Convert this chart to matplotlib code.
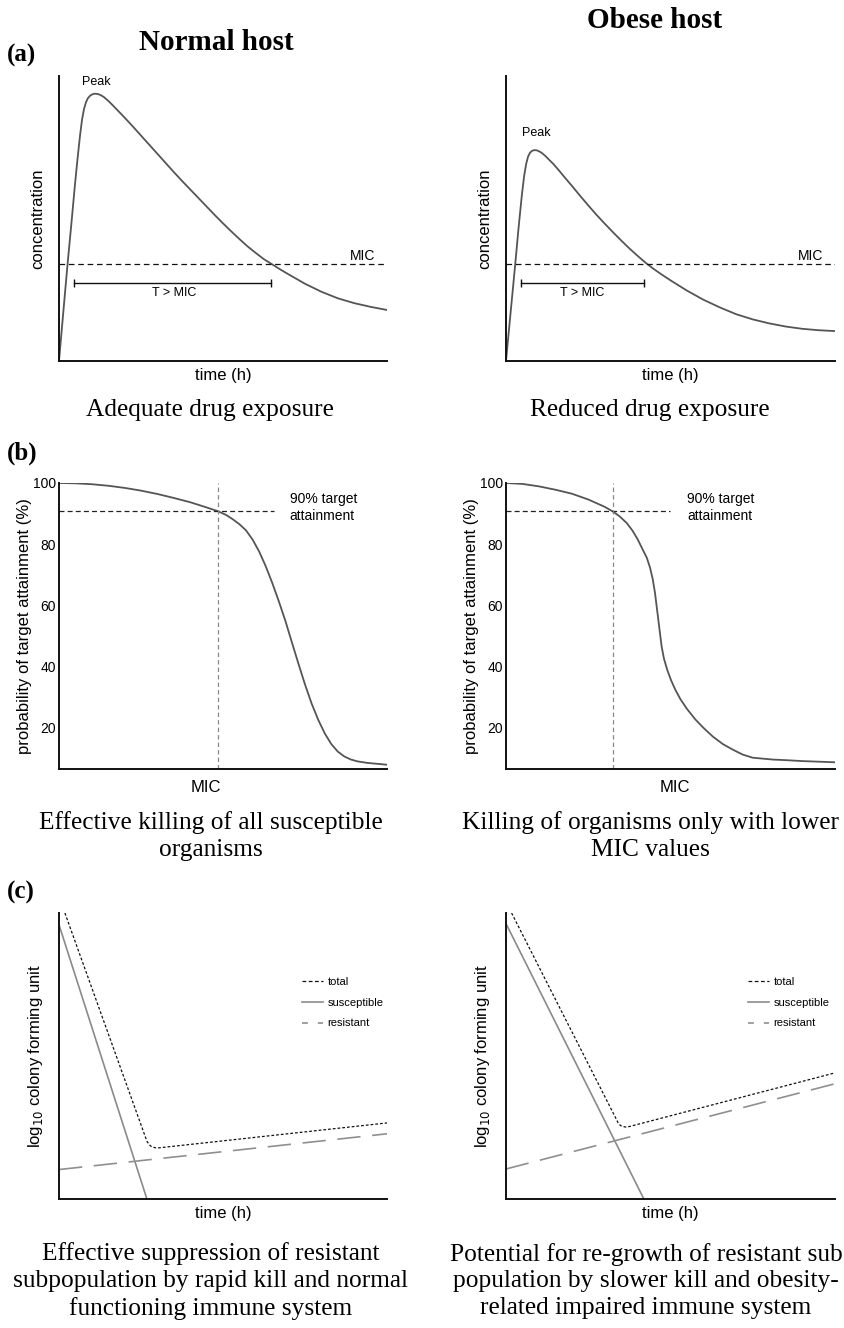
import matplotlib
matplotlib.use('Agg')
import matplotlib.pyplot as plt
from matplotlib.lines import Line2D

SERIF = 'Liberation Serif'
SANS = 'Liberation Sans'
plt.rcParams['font.family'] = [SANS, 'DejaVu Sans']

# ---------------- Panel (a): concentration-time ----------------
conc_t_normal = [0, 1.3, 2.6, 3.8, 4.9, 5.7, 6.4, 7.0, 7.6, 8.2, 8.8, 9.5, 10.2, 11.0, 11.8,
                 12.7, 13.7, 15.0, 16.5, 18.0, 20, 22.5, 25, 27.5, 30, 32.5, 35, 37.5, 40,
                 42.5, 45, 47.5, 50, 52.5, 55, 57.5, 60, 62.5, 65, 67.5, 70, 75, 80, 85, 90,
                 95, 100]
conc_normal = [0, 17.0, 33.9, 48.5, 62.3, 71.5, 79.0, 84.5, 88.3, 90.7, 92.2, 93.1, 93.6,
               93.8, 93.7, 93.3, 92.6, 91.3, 89.6, 87.8, 85.4, 82.3, 79.1, 75.9, 72.7, 69.5,
               66.3, 63.2, 60.2, 57.2, 54.2, 51.2, 48.3, 45.5, 42.8, 40.2, 37.9, 35.7, 33.9,
               32.1, 30.4, 27.1, 24.3, 22.0, 20.3, 19.0, 17.9]
conc_t_obese = [0, 1.4, 2.8, 3.8, 4.8, 5.5, 6.1, 6.7, 7.3, 8.0, 8.7, 9.4, 10.2, 11.0, 12.0,
                13.2, 14.5, 16, 18, 20, 22.5, 25, 27.5, 30, 32.5, 35, 37.5, 40, 42.5, 45,
                47.5, 50, 55, 60, 65, 70, 75, 80, 85, 90, 95, 100]
conc_obese = [0, 17.0, 33.9, 46.5, 58.0, 64.8, 69.0, 71.7, 73.1, 73.8, 74.0, 73.9, 73.5,
              72.9, 71.9, 70.5, 69.0, 67.0, 64.2, 61.5, 58.0, 54.6, 51.3, 48.2, 45.2, 42.3,
              39.5, 36.9, 34.4, 32.2, 30.2, 28.3, 24.7, 21.5, 18.8, 16.4, 14.6, 13.2, 12.1,
              11.3, 10.8, 10.5]
mic_conc = 34
tmic_normal = [4.6, 64.6]
tmic_obese = [4.6, 42.0]

# ---------------- Panel (b): probability of target attainment ----------------
pta_x_normal = [0, 5, 10, 15, 20, 25, 30, 35, 40, 45, 48.6, 51, 53, 55, 57, 59, 61, 63, 65,
                67, 69, 71, 73, 75, 77, 79, 81, 83, 85, 87, 89, 91, 94, 97, 100]
pta_normal = [100, 99.9, 99.6, 99.1, 98.4, 97.5, 96.4, 95.1, 93.7, 92.0, 90.7, 89.5, 88.1,
              86.5, 84.5, 81.5, 77.6, 72.8, 67.3, 61.3, 54.9, 47.8, 40.8, 34.0, 27.8, 22.5,
              18.0, 14.5, 12.0, 10.4, 9.4, 8.8, 8.3, 8.0, 7.7]
pta_x_obese = [0, 5, 10, 15, 20, 25, 30, 32.4, 34.5, 36.7, 38.5, 40, 41.5, 42.8, 43.8, 44.6,
               45.3, 45.8, 46.3, 46.8, 47.3, 48, 49, 50.2, 51.5, 53, 55, 57.5, 60, 63, 66,
               69, 72, 75, 78, 81, 85, 90, 95, 100]
pta_obese = [100, 99.7, 98.9, 97.8, 96.5, 94.6, 92.2, 90.7, 89.1, 86.9, 84.3, 81.6, 78.3,
             75.5, 72.2, 68.5, 63.9, 59.5, 55.2, 50.8, 46.5, 42.5, 38.8, 35.3, 32.2, 29.2,
             26.0, 22.6, 19.8, 16.8, 14.4, 12.6, 11.0, 10.0, 9.7, 9.4, 9.2, 8.9, 8.7, 8.5]
pta_target = 90.7
mic_pos_normal = 48.6
mic_pos_obese = 32.4
target_line_end_normal = 65.4
target_line_end_obese = 49.8
mic_label_normal = 44.8
mic_label_obese = 51.2
pta_ticks = [20, 40, 60, 80, 100]

# ---------------- Panel (c): log10 CFU ----------------
cfu_t_total_n = [1.8, 26.8, 27.6, 28.3, 29.8, 100]
cfu_total_n = [100, 20.2, 18.9, 18.2, 17.8, 26.6]
cfu_t_susc_n = [0, 26.8]
cfu_susc_n = [95.9, 0]
cfu_t_res_n = [0, 100]
cfu_res_n = [10.3, 22.8]

cfu_t_total_o = [1.7, 34.1, 34.7, 35.2, 36.7, 100]
cfu_total_o = [100, 26.6, 25.8, 25.4, 25.1, 44.1]
cfu_t_susc_o = [0, 41.9]
cfu_susc_o = [96.3, 0]
cfu_t_res_o = [0, 100]
cfu_res_o = [10.5, 40.3]

legend_labels = ['total', 'susceptible', 'resistant']

W, H = 845, 1328
fig = plt.figure(figsize=(W / 100, H / 100), dpi=100)
fig.patch.set_facecolor('white')

CURVE = '#555555'
GRAY = '#8a8a8a'


def px_axes(x0, y0, x1, y1):
    return fig.add_axes([x0 / W, 1 - y1 / H, (x1 - x0) / W, (y1 - y0) / H])


def ftext(x, y, s, **kw):
    fig.text(x / W, 1 - y / H, s, **kw)


def style(ax):
    for s in ['top', 'right']:
        ax.spines[s].set_visible(False)
    for s in ['left', 'bottom']:
        ax.spines[s].set_linewidth(1.4)
        ax.spines[s].set_color('#111111')
    ax.set_xlim(0, 100)


# ---- (a) ----
for (x0, x1, t, c, tm, peak_xy, tm_label_x) in [
        (59, 387, conc_t_normal, conc_normal, tmic_normal, (11.3, 97.9), 35.0),
        (506, 835, conc_t_obese, conc_obese, tmic_obese, (9.1, 80.0), 23.3)]:
    ax = px_axes(x0, 76, x1, 361)
    style(ax)
    ax.set_ylim(0, 100)
    ax.set_xticks([])
    ax.set_yticks([])
    ax.plot(t, c, color=CURVE, lw=1.3, solid_joinstyle='round')
    ax.axhline(mic_conc, color='#111111', lw=0.9, dashes=(4.5, 3))
    ax.plot(tm, [27.4, 27.4], color='#111111', lw=1.0, marker='|', markersize=6,
            markeredgewidth=1.0)
    ax.text(tm_label_x, 23.9, 'T > MIC', fontsize=9, ha='center', va='center')
    ax.text(peak_xy[0], peak_xy[1], 'Peak', fontsize=9, ha='center', va='center')
    ax.text(92.7, 36.8, 'MIC', fontsize=10, ha='center', va='center')
    ax.set_xlabel('time (h)', fontsize=12, labelpad=5)
    ax.set_ylabel('concentration', fontsize=12, labelpad=10)

# ---- (b) ----
for (x0, x1, xs, ys, mpos, mlab, tend, tx) in [
        (59, 387, pta_x_normal, pta_normal, mic_pos_normal, mic_label_normal,
         target_line_end_normal, 70.3),
        (506, 835, pta_x_obese, pta_obese, mic_pos_obese, mic_label_obese,
         target_line_end_obese, 55.1)]:
    ax = px_axes(x0, 483, x1, 769)
    style(ax)
    ax.set_ylim(6.3, 100)
    ax.plot(xs, ys, color=CURVE, lw=1.3, solid_joinstyle='round')
    ax.plot([0, tend], [pta_target, pta_target], color='#222222', lw=0.9, dashes=(4, 2.5))
    ax.axvline(mpos, color='#888888', lw=0.9, dashes=(3.5, 2.5))
    ax.text(tx, 92.0, '90% target\nattainment', fontsize=10, ha='left', va='center',
            linespacing=1.3)
    ax.set_yticks(pta_ticks)
    ax.set_yticklabels([str(v) for v in pta_ticks])
    ax.set_xticks([mlab])
    ax.set_xticklabels(['MIC'])
    ax.tick_params(axis='y', length=0, pad=2, labelsize=10)
    ax.tick_params(axis='x', length=0, pad=8, labelsize=12)
    ax.set_ylabel('probability of target attainment (%)', fontsize=12, labelpad=1)

# ---- (c) ----
for (x0, x1, tt, ct, ts, cs, tr, cr, lx) in [
        (59, 387, cfu_t_total_n, cfu_total_n, cfu_t_susc_n, cfu_susc_n, cfu_t_res_n,
         cfu_res_n, 0.741),
        (506, 835, cfu_t_total_o, cfu_total_o, cfu_t_susc_o, cfu_susc_o, cfu_t_res_o,
         cfu_res_o, 0.736)]:
    ax = px_axes(x0, 913, x1, 1199)
    style(ax)
    ax.set_ylim(0, 100)
    ax.set_xticks([])
    ax.set_yticks([])
    ax.plot(tt, ct, color='#111111', lw=0.9, dashes=(2.2, 1.6))
    ax.plot(ts, cs, color=GRAY, lw=1.2)
    ax.plot(tr, cr, color='#8f8f8f', lw=1.2, dashes=(14, 7))
    handles = [Line2D([], [], color='#111111', lw=0.9, dashes=(3, 2)),
               Line2D([], [], color=GRAY, lw=1.2),
               Line2D([], [], color='#8f8f8f', lw=1.2, dashes=(3.5, 6))]
    ax.legend(handles, legend_labels, loc='upper left', bbox_to_anchor=(lx, 0.775),
              frameon=False, fontsize=8, handlelength=1.9, handletextpad=0.4,
              labelspacing=0.95, borderpad=0, borderaxespad=0)
    ax.set_xlabel('time (h)', fontsize=12, labelpad=5)
    ax.set_ylabel(r'log$_{10}$ colony forming unit', fontsize=12, labelpad=10)

# ---- headers / panel letters / captions ----
ftext(7, 55, '(a)', fontsize=18, fontweight='bold', family=SERIF, ha='left', va='center')
ftext(7, 453, '(b)', fontsize=18, fontweight='bold', family=SERIF, ha='left', va='center')
ftext(7, 892, '(c)', fontsize=18, fontweight='bold', family=SERIF, ha='left', va='center')
ftext(216, 42, 'Normal host', fontsize=21, fontweight='bold', family=SERIF, ha='center', va='center')
ftext(655, 20, 'Obese host', fontsize=21, fontweight='bold', family=SERIF, ha='center', va='center')

cap = dict(fontsize=18.3, family=SERIF, ha='center', va='center', linespacing=1.27)
ftext(210, 410, 'Adequate drug exposure', **cap)
ftext(650, 410, 'Reduced drug exposure', **cap)
ftext(211, 836, 'Effective killing of all susceptible\norganisms', **cap)
ftext(650, 836, 'Killing of organisms only with lower\nMIC values', **cap)
ftext(211, 1281, 'Effective suppression of resistant\nsubpopulation by rapid kill and normal\n'
      'functioning immune system', **cap)
ftext(646, 1281, 'Potential for re-growth of resistant sub\npopulation by slower kill and obesity-\n'
      'related impaired immune system', **cap)

fig.savefig('out.png', dpi=100, facecolor='white')
